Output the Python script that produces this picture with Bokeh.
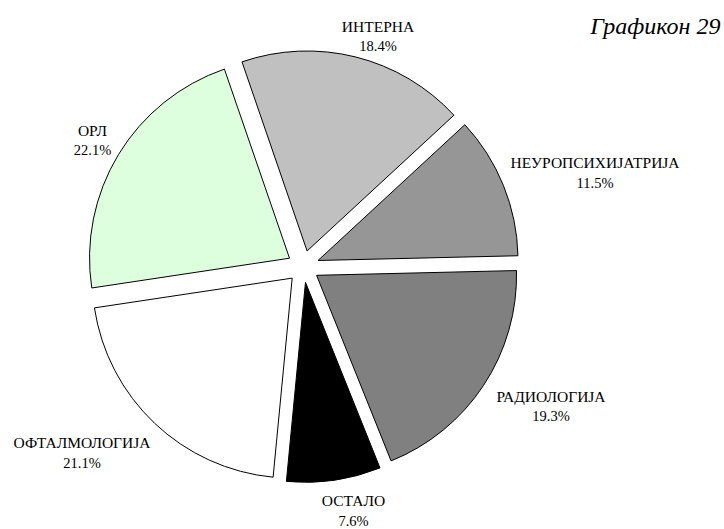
import math
from bokeh.plotting import figure
from bokeh.models import ColumnDataSource, Range1d
from bokeh.core.properties import value
from bokeh.embed import file_html
from bokeh.resources import INLINE

# ---- data ----
categories = ["ИНТЕРНА", "НЕУРОПСИХИЈАТРИЈА", "РАДИОЛОГИЈА", "ОСТАЛО", "ОФТАЛМОЛОГИЈА", "ОРЛ"]
shares = [18.4, 11.5, 19.3, 7.6, 21.1, 22.1]
title_text = "Графикон 29"

# ---- styles / layout ----
colors = ["#C0C0C0", "#969696", "#808080", "#000000", "#FFFFFF", "#DDFFDD"]
W, H = 724, 529
START_DEG = 109.0          # counter-clockwise edge of first slice
CX, CY_SCREEN = 302.7, 266.0
R = 200.0
EXPLODE = 16.0
# label centres in screen pixels (name line), per slice
label_pos = [(377.5, 25.5), (594.5, 162.0), (550.5, 395.5), (353.0, 500.0), (81.5, 442.0), (92.0, 129.5)]
LINE_GAP = 20.0
FONT = "Liberation Serif"

def sy(y):
    return H - y

total = sum(shares)
xs, ys, starts, ends = [], [], [], []
cum = 0.0
for s in shares:
    end = math.radians(START_DEG - cum / total * 360.0)
    start = math.radians(START_DEG - (cum + s) / total * 360.0)
    mid = (start + end) / 2
    xs.append(CX + EXPLODE * math.cos(mid))
    ys.append(sy(CY_SCREEN) + EXPLODE * math.sin(mid))
    starts.append(start)
    ends.append(end)
    cum += s

src = ColumnDataSource(dict(x=xs, y=ys, start=starts, end=ends, color=colors, cat=categories))

p = figure(width=W, height=H, output_backend="svg", toolbar_location=None,
           x_range=Range1d(0, W), y_range=Range1d(0, H),
           min_border=0, outline_line_color=None)
p.axis.visible = False
p.grid.visible = False

p.wedge(x="x", y="y", radius=R, start_angle="start", end_angle="end",
        fill_color="color", line_color="black", line_width=1, source=src)

lab = ColumnDataSource(dict(
    x=[lp[0] for lp in label_pos],
    y=[sy(lp[1]) for lp in label_pos],
    y2=[sy(lp[1] + LINE_GAP) for lp in label_pos],
    name=categories,
    pct=[f"{v:.1f}%" for v in shares],
))
p.text(x="x", y="y", text="name", source=lab, text_align="center", text_baseline="middle",
       text_font=value(FONT), text_font_size="15.5px", text_color="black")
p.text(x="x", y="y2", text="pct", source=lab, text_align="center", text_baseline="middle",
       text_font=value(FONT), text_font_size="14.5px", text_color="black")

p.text(x=[720], y=[sy(25)], text=[title_text], text_align="right", text_baseline="middle",
       text_font=value(FONT), text_font_style="italic", text_font_size="24px", text_color="black")

open("out.html", "w").write(file_html(p, INLINE))
